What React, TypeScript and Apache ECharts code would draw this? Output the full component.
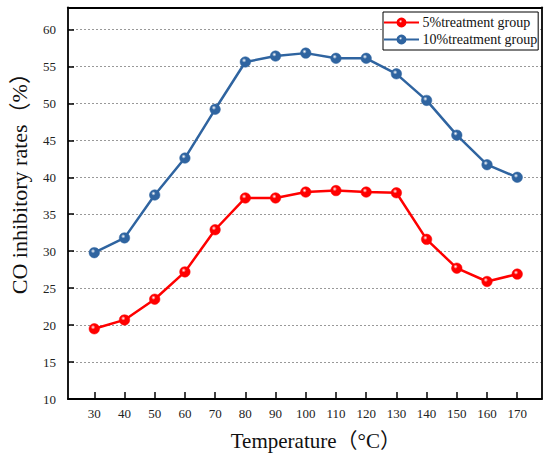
import React, { useEffect, useRef } from "react";
import * as echarts from "echarts";

const temperatures = [30, 40, 50, 60, 70, 80, 90, 100, 110, 120, 130, 140, 150, 160, 170];
const group5 = [19.5, 20.7, 23.5, 27.2, 32.9, 37.2, 37.2, 38.0, 38.2, 38.0, 37.9, 31.6, 27.7, 25.9, 26.9];
const group10 = [29.8, 31.8, 37.6, 42.6, 49.2, 55.6, 56.4, 56.8, 56.1, 56.1, 54.0, 50.4, 45.7, 41.7, 40.0];
const seriesNames = ["5%treatment group", "10%treatment group"];
const xTicks = [30, 40, 50, 60, 70, 80, 90, 100, 110, 120, 130, 140, 150, 160, 170];

const FONT = "Liberation Serif, Noto Sans CJK SC, serif";

function sphere(color: string) {
  return new echarts.graphic.RadialGradient(0.38, 0.35, 0.7, [
    { offset: 0, color: "#ffffff" },
    { offset: 0.3, color: color },
    { offset: 1, color: color },
  ]);
}

export default function App() {
  const ref = useRef<HTMLDivElement>(null);
  useEffect(() => {
    if (!ref.current) return;
    const chart = echarts.init(ref.current, undefined, { renderer: "svg" });
    const xMin = 21.3;
    const xMax = 178.1;
    const yMin = 10;
    const yMax = 63;
    const mk = (name: string, vals: number[], color: string) => ({
      type: "line",
      name,
      data: temperatures.map((t, i) => [t, vals[i]]),
      symbol: "circle",
      symbolSize: 10.5,
      lineStyle: { color, width: 2.5 },
      itemStyle: { color: sphere(color), borderColor: color, borderWidth: 0.5 },
      z: 3,
    });
    chart.setOption({
      animation: false,
      backgroundColor: "#ffffff",
      grid: { left: 65.7, right: 8.3, top: 7.3, bottom: 59, containLabel: false },
      legend: {
        orient: "vertical",
        left: 383,
        top: 12,
        itemWidth: 35,
        itemHeight: 10,
        itemGap: 2,
        padding: [3, 1, 3, 0],
        borderColor: "#000",
        borderWidth: 1,
        borderRadius: 0,
        backgroundColor: "#fff",
        textStyle: { fontFamily: FONT, fontSize: 14, color: "#111", lineHeight: 15, padding: [0, 0, 0, -1.5] },
        data: seriesNames,
      },
      xAxis: [
        {
          type: "value",
          min: xMin,
          max: xMax,
          name: "Temperature（°C）",
          nameLocation: "middle",
          nameGap: 31,
          nameTextStyle: { fontFamily: FONT, fontSize: 21, color: "#111", padding: [0, 0, 0, 22] },
          axisLine: { lineStyle: { color: "#000", width: 1.8 } },
          axisTick: { inside: true, length: 7, customValues: xTicks, lineStyle: { color: "#000", width: 1.5 } },
          axisLabel: { customValues: xTicks, margin: 8, fontFamily: "Liberation Serif", fontSize: 13, color: "#222" },
          splitLine: { show: false },
        },
        {
          type: "value",
          position: "top",
          min: xMin,
          max: xMax,
          axisLine: { show: true, lineStyle: { color: "#000", width: 1.8 } },
          axisTick: { show: false },
          axisLabel: { show: false },
          splitLine: { show: false },
        },
      ],
      yAxis: [
        {
          type: "value",
          min: yMin,
          max: yMax,
          interval: 5,
          name: "CO inhibitory rates（%）",
          nameLocation: "middle",
          nameGap: 38,
          nameTextStyle: { fontFamily: FONT, fontSize: 22, color: "#111", padding: [0, 0, 0, 50] },
          axisLine: { show: true, lineStyle: { color: "#000", width: 1.8 } },
          axisTick: { inside: true, length: 6, lineStyle: { color: "#000", width: 1.5 } },
          axisLabel: { margin: 12, showMaxLabel: false, fontFamily: "Liberation Serif", fontSize: 13, color: "#222" },
          splitLine: { show: true, lineStyle: { color: "#999", type: [2, 2], width: 1 } },
        },
        {
          type: "value",
          position: "right",
          min: yMin,
          max: yMax,
          axisLine: { show: true, lineStyle: { color: "#000", width: 1.8 } },
          axisTick: { show: false },
          axisLabel: { show: false },
          splitLine: { show: false },
        },
      ],
      series: [mk(seriesNames[0], group5, "#ff0000"), mk(seriesNames[1], group10, "#2f64a0")],
    });
    return () => chart.dispose();
  }, []);
  return <div ref={ref} style={{ width: 550, height: 458, position: "absolute", left: 0, top: 0 }} />;
}
